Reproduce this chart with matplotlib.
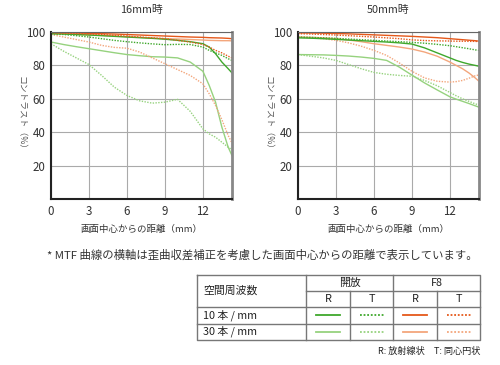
import matplotlib
matplotlib.use("Agg")
import matplotlib.pyplot as plt

plt.rcParams['font.family'] = ['Noto Sans CJK JP', 'DejaVu Sans']

# distance from image centre (mm)
xs = [0, 1, 2, 3, 4, 5, 6, 7, 8, 9, 10, 11, 12, 12.5, 13, 13.5, 14, 14.3]

# 16mm
w16_open_r10 = [99, 98.8, 98.5, 98.2, 97.8, 97.4, 97, 96.6, 96.2, 95.7, 95, 94.2, 93, 91, 87, 82, 78, 75.5]
w16_open_t10 = [99, 98.5, 97.8, 97, 96, 95, 94.2, 93.5, 92.9, 92.4, 92.6, 92.5, 91, 89, 87.5, 86, 84, 83]
w16_open_r30 = [94, 92.5, 91.2, 90, 88.8, 87.6, 86.5, 85.8, 85.2, 85, 84.5, 82, 76.5, 68, 58, 43, 31, 26]
w16_open_t30 = [93, 88.5, 84.5, 80.5, 74, 67, 62, 58.8, 57.4, 58, 59.7, 52.5, 42, 39, 37, 34, 31, 29.5]
w16_f8_r10 = [99.8, 99.6, 99.4, 99.2, 99, 98.8, 98.5, 98.2, 97.9, 97.6, 97.3, 97, 96.8, 96.6, 96.5, 96.4, 96.2, 96]
w16_f8_t10 = [99.5, 99.3, 99, 98.8, 98.5, 98, 97.5, 97, 96.5, 96, 95, 94, 92.5, 91, 89, 87.5, 85.5, 84.5]
w16_f8_r30 = [99, 98.8, 98.6, 98.3, 98, 97.6, 97.2, 96.8, 96.4, 96, 95.8, 95.5, 95.2, 95, 94.9, 94.8, 94.8, 94.7]
w16_f8_t30 = [98.5, 97, 95.5, 94, 92, 90.8, 90.3, 88, 84.5, 81, 77.5, 74, 69, 63, 56, 47.5, 38, 33.5]

# 50mm
t50_open_r10 = [96.5, 96.3, 96, 95.6, 95.2, 94.8, 94.4, 94, 93.5, 92.8, 90.5, 87.5, 84.5, 83, 81.8, 80.8, 80, 79.5]
t50_open_t10 = [97, 96.8, 96.5, 96.2, 95.8, 95.4, 95, 94.6, 94.2, 93.8, 93.3, 92.6, 91.8, 91.2, 90.6, 90, 89.3, 89]
t50_open_r30 = [86.5, 86.4, 86.3, 86, 85.6, 85, 84.2, 83, 79, 74.2, 69.5, 65.3, 61.2, 59.8, 58.5, 57.2, 55.8, 55]
t50_open_t30 = [86.5, 85.5, 84.5, 83, 80.5, 78, 75.8, 74.7, 74, 73.5, 71, 67.8, 63.8, 61.8, 60, 58.5, 57, 56.3]
t50_f8_r10 = [99.5, 99.4, 99.3, 99.1, 98.9, 98.6, 98.3, 98, 97.7, 97.4, 97, 96.6, 96, 95.7, 95.4, 95.1, 94.8, 94.5]
t50_f8_t10 = [99, 98.8, 98.5, 98.2, 97.8, 97.4, 97, 96.5, 96, 95.3, 94.9, 94.7, 94.6, 94.5, 94.5, 94.4, 94.4, 94.3]
t50_f8_r30 = [97, 96.8, 96.5, 96, 95.2, 94.2, 93, 92, 91, 89.8, 88, 85.5, 82, 80, 78, 75.5, 72.5, 70.5]
t50_f8_t30 = [97, 96.5, 96, 95, 93.5, 91.5, 89, 86, 81.5, 76.5, 72.5, 70.5, 70, 70.3, 71, 72.3, 73.8, 74.3]

titles = ['16mm時', '50mm時']
xticks = [0, 3, 6, 9, 12]
yticks = [20, 40, 60, 80, 100]

G1 = '#3fa82c'
G2 = '#96d27e'
O1 = '#e5581a'
O2 = '#f3a67c'
DOT = (0, (1, 1))

styles = [(G1, '-'), (G1, DOT), (G2, '-'), (G2, DOT),
          (O1, '-'), (O1, DOT), (O2, '-'), (O2, DOT)]

series = [
    [w16_open_r10, w16_open_t10, w16_open_r30, w16_open_t30,
     w16_f8_r10, w16_f8_t10, w16_f8_r30, w16_f8_t30],
    [t50_open_r10, t50_open_t10, t50_open_r30, t50_open_t30,
     t50_f8_r10, t50_f8_t10, t50_f8_r30, t50_f8_t30],
]

fig = plt.figure(figsize=(5, 3.65), dpi=100)

for i, left in enumerate([0.102, 0.596]):
    ax = fig.add_axes([left, 0.4548, 0.362, 0.4575])
    # draw light ones first so the strong ones sit on top
    for k in [2, 3, 6, 7, 0, 1, 4, 5]:
        c, ls = styles[k]
        ax.plot(xs, series[i][k], color=c, linestyle=ls, lw=1.0)
    ax.set_xlim(0, 14.3)
    ax.set_ylim(0, 100)
    ax.set_xticks(xticks)
    ax.set_yticks(yticks)
    ax.grid(color='#aaaaaa', lw=0.8)
    ax.set_axisbelow(True)
    ax.tick_params(length=0, labelsize=8.3, colors='#333333', pad=4)
    ax.spines['left'].set_color('#222222')
    ax.spines['bottom'].set_color('#222222')
    ax.spines['left'].set_linewidth(1.5)
    ax.spines['bottom'].set_linewidth(1.5)
    ax.spines['top'].set_color('#666666')
    ax.spines['right'].set_color('#888888')
    ax.spines['right'].set_linewidth(2)
    ax.set_title(titles[i], fontsize=7.8, color='#333333', pad=14)
    ax.set_xlabel('画面中心からの距離（mm）', fontsize=6.8, color='#333333', labelpad=5.5)
    ax.set_ylabel('コントラスト（%）', fontsize=6.3, color='#555555', rotation=270,
                  labelpad=7, va='bottom')

# overlay in pixel coords for the notes and legend table
ov = fig.add_axes([0, 0, 1, 1])
ov.set_xlim(0, 500)
ov.set_ylim(365, 0)
ov.axis('off')

ov.text(47, 255, '* MTF 曲線の横軸は歪曲収差補正を考慮した画面中心からの距離で表示しています。',
        fontsize=8.2, color='#333333', va='center', ha='left')

gc = '#777777'
L, R, T, B = 197, 480, 275, 340
ov.plot([L, R, R, L, L], [T, T, B, B, T], color=gc, lw=1)
ov.plot([306, 306], [T, B], color=gc, lw=1)
ov.plot([393, 393], [T, B], color=gc, lw=1)
ov.plot([350, 350], [291, B], color=gc, lw=1)
ov.plot([437, 437], [291, B], color=gc, lw=1)
ov.plot([306, R], [291, 291], color=gc, lw=1)
ov.plot([L, R], [307, 307], color=gc, lw=1)
ov.plot([L, R], [323.5, 323.5], color=gc, lw=1)

fs = 7.8
ov.text(203, 291, '空間周波数', fontsize=fs, va='center', ha='left', color='#222222')
ov.text(349.5, 283, '開放', fontsize=fs, va='center', ha='center', color='#222222')
ov.text(436.5, 283, 'F8', fontsize=fs, va='center', ha='center', color='#222222')
col_c = [328, 371.5, 415, 458.5]
for cx, lab in zip(col_c, ['R', 'T', 'R', 'T']):
    ov.text(cx, 299.5, lab, fontsize=fs, va='center', ha='center', color='#222222')
ov.text(203, 315, '10 本 / mm', fontsize=fs, va='center', ha='left', color='#222222')
ov.text(203, 331.5, '30 本 / mm', fontsize=fs, va='center', ha='left', color='#222222')

legend_rows = [(315, [styles[0], styles[1], styles[4], styles[5]]),
               (331.5, [styles[2], styles[3], styles[6], styles[7]])]
for ry, sts in legend_rows:
    for cx, (c, ls) in zip(col_c, sts):
        ov.plot([cx - 12, cx + 12], [ry, ry], color=c, linestyle=ls, lw=1.3)

ov.text(480, 351, 'R: 放射線状　T: 同心円状', fontsize=6.6, va='center', ha='right',
        color='#222222')

fig.savefig('out.png', dpi=100)
